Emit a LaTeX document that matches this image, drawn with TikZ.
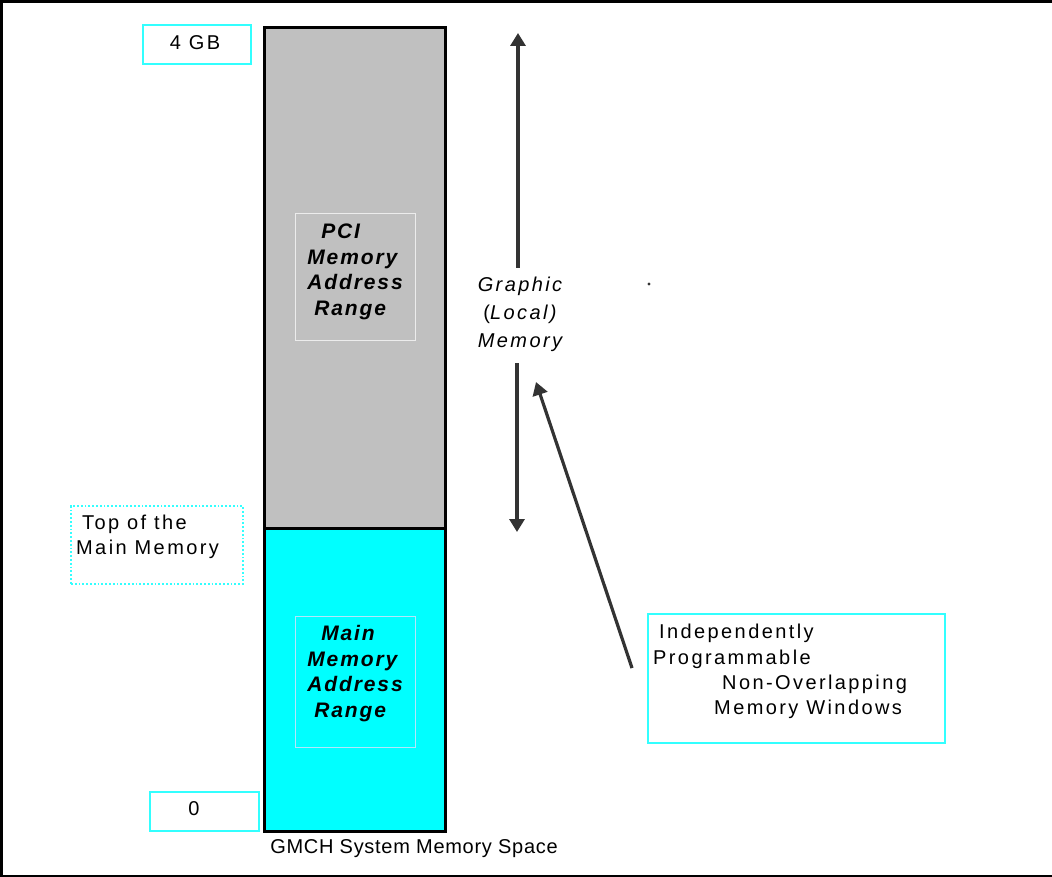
\documentclass[tikz,border=0pt]{standalone}
\usepackage{fontspec}
\setmainfont{Liberation Sans}
\usetikzlibrary{arrows.meta}
\definecolor{cyanfill}{HTML}{00FFFF}
\definecolor{grayfill}{HTML}{C0C0C0}
\definecolor{arrowgray}{HTML}{333333}
\definecolor{boxcyan}{HTML}{33FFFF}
\tikzset{
  colbox/.style={draw=black, line width=3pt, minimum width=181pt, inner sep=0pt},
  innerbox/.style={draw=#1, line width=1pt, minimum width=120pt, inner sep=0pt},
  valbox/.style={draw=boxcyan, line width=1.2pt, inner sep=0pt},
  txt/.style={inner sep=0pt, font=\fontsize{20}{25.3}\selectfont\addfontfeatures{LetterSpace=12}},
  bitxt/.style={inner sep=0pt, align=left, font=\fontsize{21}{25.5}\selectfont\bfseries\itshape\addfontfeatures{LetterSpace=9}},
  arr/.style={draw=arrowgray, line width=3.2pt, -{Triangle[length=13pt,width=15pt]}},
}
\begin{document}
\begin{tikzpicture}[x=1pt,y=-1pt]
\useasboundingbox (0,0) rectangle (1052,877);
% frame
\draw[line width=2.7pt] (1052,1.2) -- (1.35,1.2) -- (1.35,876) -- (1052,876);
% memory column
\node[colbox, fill=grayfill, minimum height=500pt] (pcireg) at (355,278) {};
\node[colbox, fill=cyanfill, minimum height=303pt] (mainreg) at (355,679.5) {};
\node[innerbox=white!85!gray, minimum height=126pt] (pcibox) at (355,277) {};
\node[innerbox=white!70!cyan, minimum height=131pt] (mainbox) at (355,681.5) {};
\node[bitxt] (pcitxt) at (355,272) {\hspace*{14pt}PCI\\Memory\\Address\\\hspace*{7pt}Range};
\node[bitxt] (maintxt) at (355,673.5) {\hspace*{14pt}Main\\Memory\\Address\\\hspace*{7pt}Range};
% value boxes
\node[valbox, minimum width=108pt, minimum height=39pt] (gbbox) at (197,44.5) {};
\node[txt] (gbtxt) at (195,43) {4 GB};
\node[valbox, minimum width=109pt, minimum height=39pt] (zerobox) at (204.5,811.5) {};
\node[txt] (zerotxt) at (194,809) {0};
\node[draw=boxcyan, dotted, line width=1.8pt, minimum width=172pt, minimum height=78pt, inner sep=0pt] (topbox) at (157,545) {};
\node[txt, align=left, anchor=west] (toptxt) at (76,537) {\hspace*{6pt}Top of the\\Main Memory};
% caption
\node[txt, font=\fontsize{20}{25}\selectfont\addfontfeatures{LetterSpace=3.5}] (caption) at (414,849) {GMCH System Memory Space};
% graphic memory label and arrows
\node[txt, align=center, font=\fontsize{20}{28}\selectfont\itshape\addfontfeatures{LetterSpace=12}] (glabel) at (520,314) {Graphic\\{\upshape(}Local)\\Memory};
\coordinate (gupstart) at (518,268);
\coordinate (gtop) at (518,33);
\coordinate (gdownstart) at (517,363);
\coordinate (gbot) at (517,532);
\draw[arr] (gupstart) -- (gtop);
\draw[arr] (gdownstart) -- (gbot);
\fill[arrowgray] (649,284) circle (1.7pt);
% windows box
\node[valbox, minimum width=297pt, minimum height=129pt] (winbox) at (796.5,678.5) {};
\node[txt, align=left, anchor=west] (wintxt) at (653,671.5) {\hspace*{6pt}Independently\\Programmable\\\hspace*{69pt}Non-Overlapping\\\hspace*{61pt}Memory Windows};
\coordinate (dtail) at (632,668);
\coordinate (dtip) at (536,382);
\draw[arr] (dtail) -- (dtip);
\end{tikzpicture}
\end{document}
